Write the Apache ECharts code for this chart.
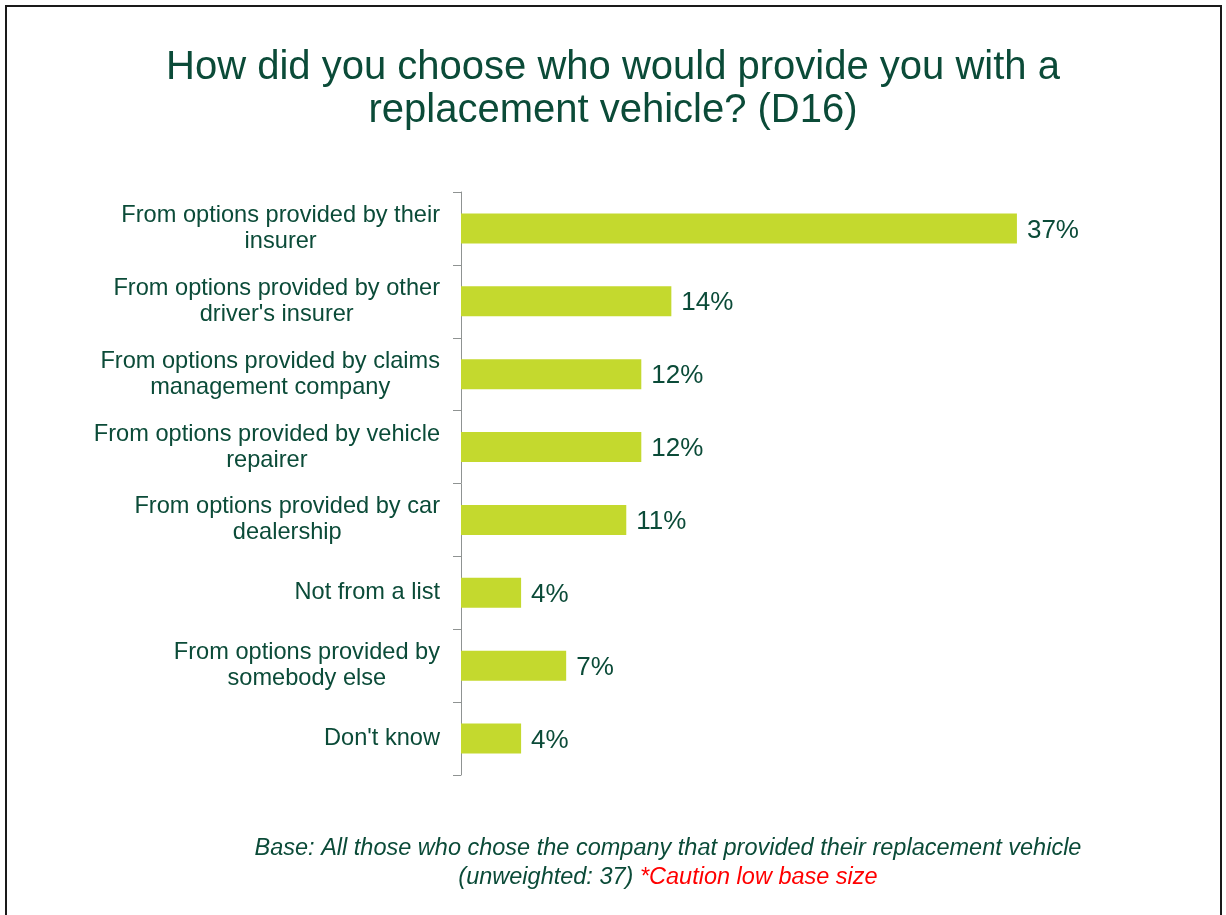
<!DOCTYPE html>
<html>
<head>
<meta charset="utf-8">
<title>Replacement vehicle provider choice (D16)</title>
<script src="https://cdn.jsdelivr.net/npm/echarts@6/dist/echarts.min.js"></script>
<style>
  html, body { margin: 0; padding: 0; background: #ffffff; }
  #chart { width: 1226px; height: 915px; }
</style>
</head>
<body>
<div id="chart"></div>
<script>
// Survey answers, top to bottom
const categories = [
  "From options provided by their\ninsurer",
  "From options provided by other\ndriver's insurer",
  "From options provided by claims\nmanagement company",
  "From options provided by vehicle\nrepairer",
  "From options provided by car\ndealership",
  "Not from a list",
  "From options provided by\nsomebody else",
  "Don't know"
];
// Share of respondents, %
const shares = [37, 14, 12, 12, 11, 4, 7, 4];

const titleText = "How did you choose who would provide you with a\nreplacement vehicle? (D16)";
const baseText = "Base: All those who chose the company that provided their replacement vehicle";
const baseText2 = "(unweighted: 37) ";
const cautionText = "*Caution low base size";

const GREEN = '#0b4b38';
const BAR = '#c4d92e';
const FONT = '"Liberation Sans", Arial, sans-serif';

const chart = echarts.init(document.getElementById('chart'), null, { renderer: 'canvas' });

chart.setOption({
  backgroundColor: '#ffffff',
  animation: false,
  title: {
    text: titleText,
    left: 'center',
    top: 41,
    textStyle: {
      color: GREEN,
      fontFamily: FONT,
      fontSize: 40,
      fontWeight: 'normal',
      lineHeight: 43
    }
  },
  grid: {
    left: 461,
    top: 192,
    width: 601,
    height: 583,
    containLabel: false
  },
  xAxis: {
    type: 'value',
    min: 0,
    max: 40,
    show: false
  },
  yAxis: {
    type: 'category',
    data: categories,
    inverse: true,
    axisLine: { show: true, lineStyle: { color: '#8f9392', width: 1 } },
    axisTick: { show: true, length: 8, lineStyle: { color: '#8f9392' } },
    splitLine: { show: false },
    axisLabel: {
      margin: 21,
      fontFamily: FONT,
      fontSize: 23.6,
      color: GREEN,
      lineHeight: 26,
      formatter: function (v) {
        return v.split('\n').map(function (s) { return '{c|' + s + '}'; }).join('\n');
      },
      rich: {
        c: {
          align: 'center',
          fontFamily: FONT,
          fontSize: 23.6,
          color: GREEN,
          lineHeight: 26
        }
      }
    }
  },
  series: [{
    type: 'bar',
    data: shares,
    barWidth: 30,
    itemStyle: { color: BAR },
    label: {
      show: true,
      position: 'right',
      distance: 10,
      offset: [0, 2],
      formatter: '{c}%',
      fontFamily: FONT,
      fontSize: 26,
      color: GREEN
    }
  }],
  graphic: [
    {
      type: 'rect',
      silent: true,
      shape: { x: 6, y: 6, width: 1215, height: 1000 },
      style: { fill: 'none', stroke: '#1a1a1a', lineWidth: 2 }
    },
    {
      type: 'text',
      silent: true,
      x: 668,
      y: 834,
      style: {
        text: '{a|' + baseText + '}\n{a|' + baseText2 + '}{r|' + cautionText + '}',
        textAlign: 'center',
        textVerticalAlign: 'top',
        rich: {
          a: { align: 'center', fontFamily: FONT, fontStyle: 'italic', fontSize: 23.5, lineHeight: 29, fill: GREEN, color: GREEN },
          r: { align: 'center', fontFamily: FONT, fontStyle: 'italic', fontSize: 23.5, lineHeight: 29, fill: '#ff0000', color: '#ff0000' }
        }
      }
    }
  ]
});
</script>
</body>
</html>
